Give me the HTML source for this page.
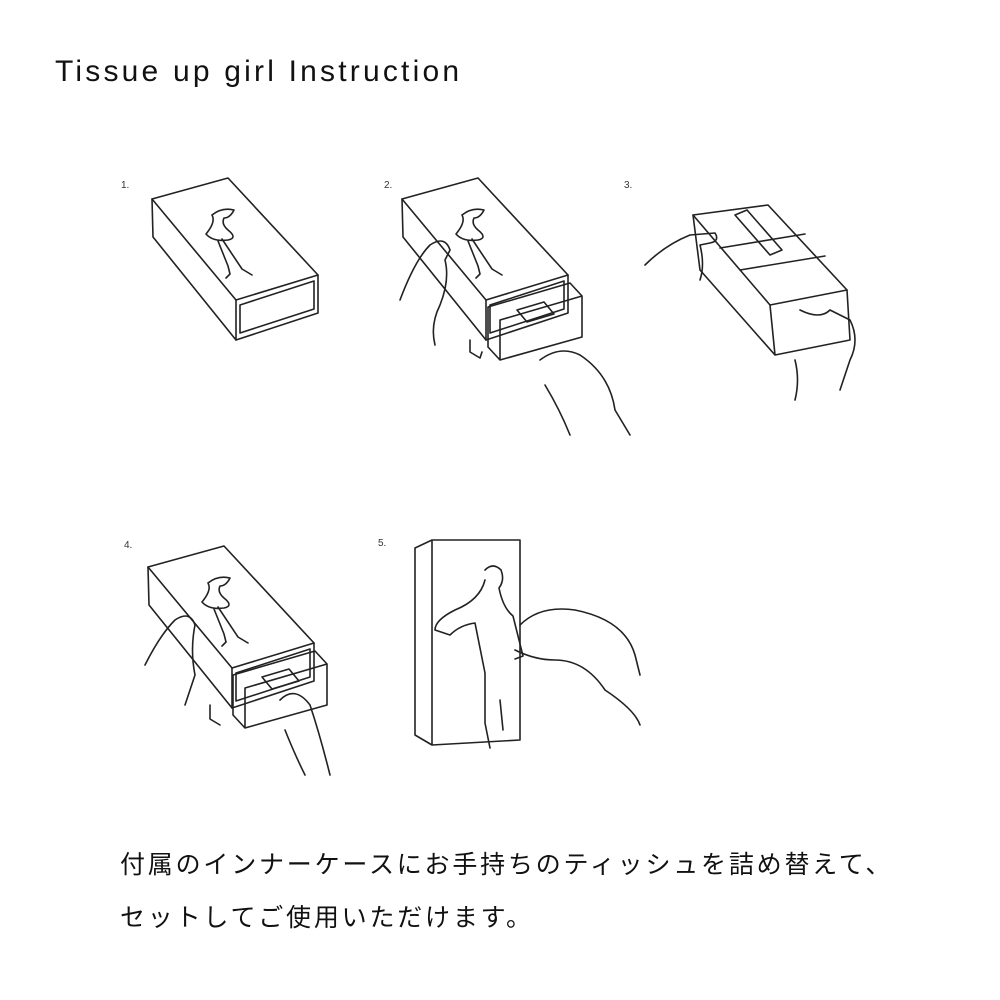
<!DOCTYPE html>
<html><head><meta charset="utf-8"><style>
body{margin:0;background:#fff;width:1000px;height:1000px;overflow:hidden;position:relative;font-family:"Liberation Sans","Noto Sans CJK JP",sans-serif}
.t{position:absolute;left:55px;top:55px;font-size:30px;color:#111;letter-spacing:3.2px}
.j{position:absolute;left:120px;font-size:25px;color:#111;font-family:"Noto Sans CJK JP",sans-serif;letter-spacing:2.8px}
svg{position:absolute;left:0;top:0}
</style></head><body>
<div class="t">Tissue up girl Instruction</div>
<svg width="1000" height="1000" fill="none" stroke="#222" stroke-width="1.6" stroke-linejoin="round" stroke-linecap="round">
<g font-family="Liberation Sans" font-size="10" fill="#333" stroke="none">
<text x="121" y="188">1.</text><text x="384" y="188">2.</text><text x="624" y="188">3.</text>
<text x="124" y="548">4.</text><text x="378" y="546">5.</text></g>
<defs><g id="box">
<path d="M0,0 L76,-21 L166,76 L84,101 Z"/>
<path d="M0,0 L1,38 L84,141 L84,101"/>
<path d="M84,141 L166,114 L166,76"/>
<path d="M88,106 L162,82 L162,110 L88,134 Z"/>
<path d="M60,16 q10,-8 22,-5 q-4,8 -10,8 q-3,6 4,12 q10,8 0,10 q-15,2 -22,-6 q10,-12 6,-19 M70,40 l20,30 l10,6 M66,42 l10,25 l2,8 l-4,4"/>
</g></defs>
<use href="#box" x="152" y="199"/>
<use href="#box" x="402" y="199"/>
<use href="#box" x="148" y="567"/>
<path d="M488,307 L570,283 L582,296 L582,337 L500,360 L488,347 Z M500,320 L582,296 M500,320 L500,360"/>
<path d="M517,310 l27,-8 l10,12 l-27,8 Z"/>
<path d="M470,340 l0,12 l10,6 l2,-6"/>
<path d="M233,675 L315,651 L327,664 L327,705 L245,728 L233,715 Z M245,688 L327,664 M245,688 L245,728"/>
<path d="M262,677 l27,-8 l10,12 l-27,8 Z"/>
<path d="M210,705 l0,14 l10,6"/>
<path d="M693,215 L768,205 L847,290 L770,305 Z"/>
<path d="M693,215 L700,270 L775,355 L770,305 M775,355 L850,340 L847,290"/>
<path d="M735,215 l12,-5 l35,40 l-12,5 Z"/>
<path d="M720,248 L805,234 M740,270 L825,256"/>
<path d="M415,548 L432,540 L520,540 L520,740 L432,745 L415,735 Z M432,540 L432,745"/>
<path d="M485,570 q8,-8 16,0 q4,10 -2,18 q4,20 14,28 l10,40 l-8,3 M485,580 q-5,20 -30,30 q-20,10 -20,20 l15,5 q10,-10 25,-12 l10,50 l0,50 l5,25 M500,700 l3,30"/>
<path d="M400,300 q15,-40 30,-55 q15,-10 20,5 l-5,10 q5,20 -5,45 q-10,20 -5,40"/>
<path d="M540,360 q20,-15 40,-5 q30,20 35,55 l15,25 M545,385 q15,25 25,50"/>
<path d="M645,265 q20,-20 45,-30 l25,-2 q5,8 -5,10 l-10,2 q5,20 0,35"/>
<path d="M800,310 q20,10 30,0 l20,10 q10,20 0,40 l-10,30 M795,360 q5,20 0,40"/>
<path d="M145,665 q15,-30 30,-45 q15,-10 20,5 q-5,25 0,50 l-10,30"/>
<path d="M280,700 q15,-15 30,5 q10,30 20,70 M285,730 q10,25 20,45"/>
<path d="M520,625 q20,-20 55,-15 q50,10 60,45 l5,20 M515,650 q20,10 40,10 q30,0 50,30 q30,20 35,35"/>
</svg>
<div class="j" style="top:845px">付属のインナーケースにお手持ちのティッシュを詰め替えて、</div>
<div class="j" style="top:898px">セットしてご使用いただけます。</div>
</body></html>
